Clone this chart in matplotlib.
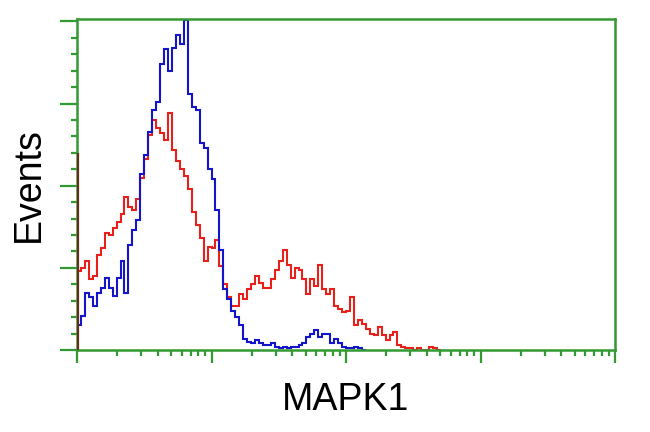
import numpy as np
import matplotlib
matplotlib.use('Agg')
import matplotlib.pyplot as plt
from matplotlib.ticker import LogLocator, MultipleLocator, NullFormatter

# histogram counts per channel (136 log channels over 4 decades)
red_counts = [48, 50, 54, 43, 45, 58, 62, 71, 70, 74, 78, 83, 93, 87, 85, 92,
              105, 116, 131, 140, 135, 132, 128, 144, 122, 115, 110, 106, 98, 84,
              76, 68, 54, 63, 62, 67, 51, 40, 32, 27, 27, 34, 31, 37, 40, 45,
              41, 38, 38, 43, 49, 54, 61, 52, 44, 50, 49, 43, 34, 43, 39, 52,
              37, 34, 37, 27, 25, 23, 24, 32, 15, 18, 16, 13, 10, 9, 14, 9,
              6, 9, 11, 3, 2, 1, 1, 0, 1, 0, 0, 2, 1, 0]
blue_counts = [15, 21, 35, 32, 27, 35, 38, 44, 38, 33, 44, 54, 35, 64, 73, 79,
               107, 119, 133, 146, 151, 174, 183, 170, 184, 192, 186, 201, 156, 148,
               146, 126, 123, 110, 104, 85, 61, 37, 31, 24, 20, 15, 7, 5, 4, 6,
               4, 3, 3, 4, 2, 1, 2, 1, 2, 2, 3, 4, 8, 10, 12, 8, 10, 10, 4, 7,
               4, 2, 1, 1, 2, 1, 0]
first_channel = 120  # events piled in the lowest channel
n_channels = 136

edges = np.logspace(0, 4, n_channels + 1)

fig = plt.figure(figsize=(6.5, 4.32), dpi=100)
ax = fig.add_axes([77 / 650, 82 / 432, 538 / 650, 331 / 432])

green = '#339933'
ax.stairs(red_counts, edges[:len(red_counts) + 1], color='#e8201c', lw=1.5, baseline=None)
ax.stairs(blue_counts, edges[:len(blue_counts) + 1], color='#1414c8', lw=1.5, baseline=None)
ax.vlines(1.012, 0, first_channel, color='#6b2a1a', lw=1.6, zorder=5)

ax.set_xscale('log')
ax.set_xlim(1, 1e4)
ax.set_ylim(0, 201.5)

for s in ax.spines.values():
    s.set_color(green)
    s.set_linewidth(1.8)

ax.xaxis.set_major_locator(LogLocator(base=10, numticks=10))
ax.xaxis.set_minor_locator(LogLocator(base=10, subs=np.arange(2, 10), numticks=10))
ax.yaxis.set_major_locator(MultipleLocator(50))
ax.yaxis.set_minor_locator(MultipleLocator(10))
ax.xaxis.set_major_formatter(NullFormatter())
ax.xaxis.set_minor_formatter(NullFormatter())
ax.yaxis.set_major_formatter(NullFormatter())

ax.tick_params(which='major', axis='x', direction='out', length=9.5, width=1.6, color=green)
ax.tick_params(which='minor', axis='x', direction='out', length=4.5, width=1.6, color=green)
ax.tick_params(which='major', axis='y', direction='out', length=12, width=1.6, color=green)
ax.tick_params(which='minor', axis='y', direction='out', length=4.5, width=1.6, color=green)

ax.set_xlabel('MAPK1', fontsize=27, family='Liberation Sans', labelpad=10)
ax.set_ylabel('Events', fontsize=27, family='Liberation Sans', labelpad=6)

fig.savefig('out.png', dpi=100)
